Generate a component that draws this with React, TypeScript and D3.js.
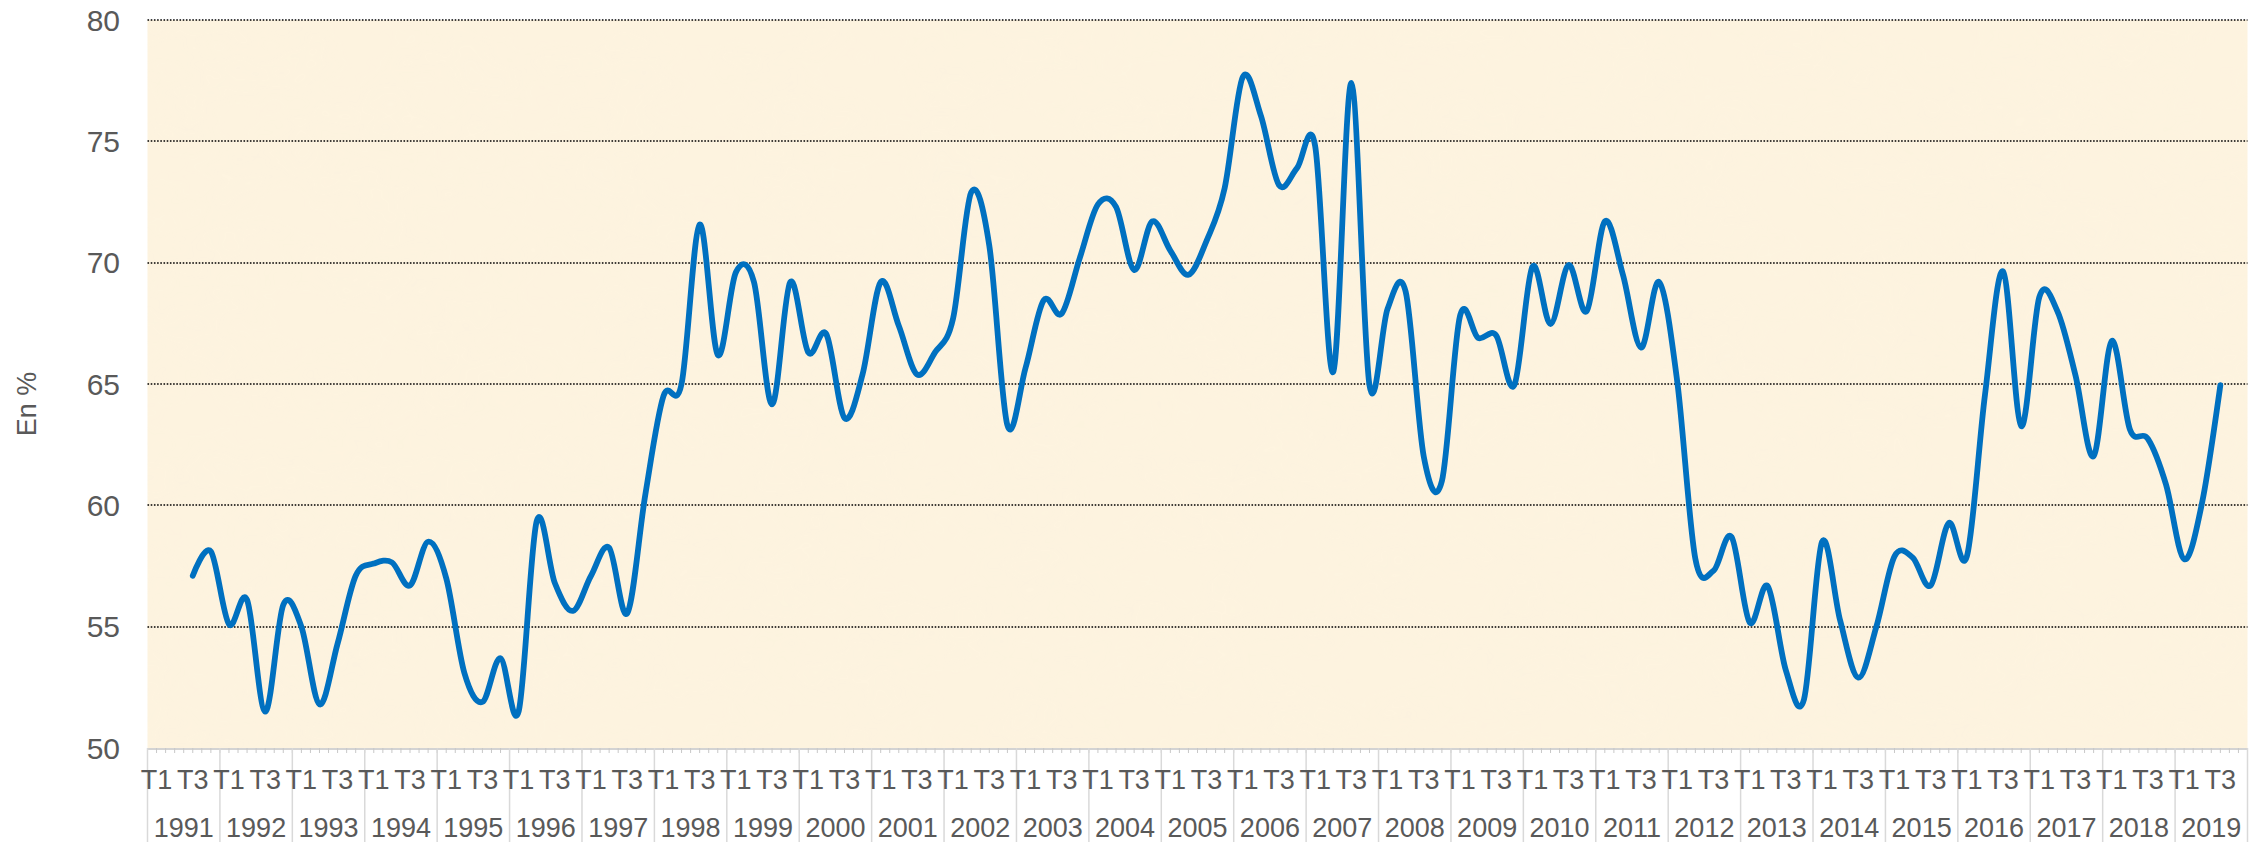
import React from "react";
import * as d3 from "d3";

const years = ["1991","1992","1993","1994","1995","1996","1997","1998","1999","2000","2001","2002","2003","2004","2005","2006","2007","2008","2009","2010","2011","2012","2013","2014","2015","2016","2017","2018","2019"];
const quarterNames = ["T1", "T2", "T3", "T4"];
const shownQuarterLabels = ["T1", "T3"];
const yTicks = [50, 55, 60, 65, 70, 75, 80];
const gridTicks = [55, 60, 65, 70, 75, 80];

// Values in %, from 1991 T1 to 2019 T4 (null = no data)
const rates: (number | null)[] = [
  // 1991
  null, null, 57.1, 58.1,
  // 1992
  55.1, 56.1, 51.5, 55.9,
  // 1993
  55.0, 51.8, 54.3, 57.1,
  // 1994
  57.6, 57.65, 56.7, 58.5,
  // 1995
  57.0, 53.1, 51.9, 53.7,
  // 1996
  51.5, 59.35, 56.8, 55.65,
  // 1997
  57.1, 58.25, 55.55, 60.45,
  // 1998
  64.5, 65.0, 71.57, 66.2,
  // 1999
  69.6, 69.2, 64.16, 69.2,
  // 2000
  66.3, 67.05, 63.6, 65.4,
  // 2001
  69.2, 67.4, 65.4, 66.3,
  // 2002
  67.7, 72.9, 70.7, 63.3,
  // 2003
  65.66, 68.45, 67.9, 70.2,
  // 2004
  72.4, 72.3, 69.7, 71.7,
  // 2005
  70.5, 69.5, 70.9, 73.07,
  // 2006
  77.65, 76.06, 73.2, 73.9,
  // 2007
  74.8, 65.5, 77.4, 64.95,
  // 2008
  68.1, 68.8, 62.0, 61.0,
  // 2009
  67.8, 66.9, 67.0, 64.95,
  // 2010
  69.83, 67.47, 69.9, 68.0,
  // 2011
  71.7, 69.5, 66.5, 69.2,
  // 2012
  65.1, 57.8, 57.3, 58.7,
  // 2013
  55.17, 56.67, 53.2, 52.0,
  // 2014
  58.5, 55.25, 52.9, 55.0,
  // 2015
  57.9, 57.85, 56.7, 59.27,
  // 2016
  57.9, 64.56, 69.64, 63.26,
  // 2017
  68.58, 68.0, 65.35, 62.03,
  // 2018
  66.77, 63.14, 62.74, 60.85,
  // 2019
  57.78, 60.14, 64.95, null,
];

const W = 2254;
const H = 842;
const plotLeft = 147.5;
const plotRight = 2247.5;
const plotTop = 20;
const plotBottom = 748;

type Pt = { key: string; year: string; q: string; v: number | null };

export default function App() {
  const points: Pt[] = [];
  years.forEach((y, yi) => {
    quarterNames.forEach((q, qi) => {
      points.push({ key: y + "-" + q, year: y, q, v: rates[yi * 4 + qi] });
    });
  });

  const x = d3
    .scaleBand<string>()
    .domain(points.map((p) => p.key))
    .range([plotLeft, plotRight])
    .padding(0);
  const bw = x.bandwidth();
  const cx = (k: string) => (x(k) as number) + bw / 2;

  const yearScale = d3
    .scaleBand<string>()
    .domain(years)
    .range([plotLeft, plotRight])
    .padding(0);

  const y = d3.scaleLinear().domain([50, 80]).range([plotBottom, plotTop]);

  const line = d3
    .line<Pt>()
    .defined((d) => d.v !== null)
    .x((d) => cx(d.key))
    .y((d) => y(d.v as number))
    .curve(d3.curveCatmullRom.alpha(0));

  const minorTicks = d3.range(0, points.length * 2 + 1).map(
    (i) => plotLeft + (i * bw) / 2
  );

  const font = "'Liberation Sans', Arial, sans-serif";
  const textColor = "#595959";

  return (
    <div style={{ position: "absolute", left: 0, top: 0, width: W, height: H, background: "#fff" }}>
      <svg width={W} height={H} style={{ display: "block" }}>
        <defs>
          <filter id="parchment" x="0" y="0" width="100%" height="100%">
            <feTurbulence type="fractalNoise" baseFrequency="0.012 0.02" numOctaves="3" seed="4" result="noise" />
            <feColorMatrix
              in="noise"
              type="matrix"
              values="0 0 0 0 0.97  0 0 0 0 0.91  0 0 0 0 0.76  0 0 0 0.5 -0.15"
            />
          </filter>
        </defs>
        {/* plot background */}
        <rect x={plotLeft} y={plotTop} width={plotRight - plotLeft} height={plotBottom - plotTop} fill="#fdf3df" />
        <rect
          x={plotLeft}
          y={plotTop}
          width={plotRight - plotLeft}
          height={plotBottom - plotTop}
          filter="url(#parchment)"
          opacity={0.3}
        />

        {/* gridlines */}
        {gridTicks.map((t) => (
          <line
            key={"g" + t}
            x1={plotLeft}
            x2={plotRight}
            y1={Math.round(y(t))}
            y2={Math.round(y(t))}
            stroke="#000"
            strokeWidth={1.6}
            strokeDasharray="1.6 1.6"
          />
        ))}

        {/* x axis line */}
        <line
          x1={plotLeft}
          x2={plotRight}
          y1={plotBottom + 1}
          y2={plotBottom + 1}
          stroke="#a6a6a6"
          strokeWidth={2}
          strokeDasharray="1 1"
        />
        {minorTicks.map((tx, i) => (
          <line key={"m" + i} x1={tx} x2={tx} y1={plotBottom} y2={plotBottom + 5} stroke="#c8c8c8" strokeWidth={1} />
        ))}
        {/* year separators */}
        {years.map((yr) => (
          <line
            key={"s" + yr}
            x1={yearScale(yr) as number}
            x2={yearScale(yr) as number}
            y1={plotBottom}
            y2={H}
            stroke="#d9d9d9"
            strokeWidth={1.5}
          />
        ))}
        <line x1={plotRight} x2={plotRight} y1={plotBottom} y2={H} stroke="#d9d9d9" strokeWidth={1.5} />

        {/* y tick labels */}
        {yTicks.map((t) => (
          <text
            key={"y" + t}
            x={120}
            y={y(t)}
            dy="0.35em"
            textAnchor="end"
            fontFamily={font}
            fontSize={30}
            fill={textColor}
          >
            {t}
          </text>
        ))}

        {/* quarter labels */}
        {points
          .filter((p) => shownQuarterLabels.includes(p.q))
          .map((p) => (
            <text
              key={"q" + p.key}
              x={cx(p.key)}
              y={789}
              textAnchor="middle"
              fontFamily={font}
              fontSize={27}
              fill={textColor}
            >
              {p.q}
            </text>
          ))}

        {/* year labels */}
        {years.map((yr) => (
          <text
            key={"yl" + yr}
            x={(yearScale(yr) as number) + yearScale.bandwidth() / 2}
            y={837}
            textAnchor="middle"
            fontFamily={font}
            fontSize={27}
            fill={textColor}
          >
            {yr}
          </text>
        ))}

        {/* axis title */}
        <text
          transform={`translate(36, ${(plotTop + plotBottom) / 2 + 20}) rotate(-90)`}
          textAnchor="middle"
          fontFamily={font}
          fontSize={27}
          fill={textColor}
        >
          En %
        </text>

        {/* data line */}
        <path
          d={line(points) || ""}
          fill="none"
          stroke="#0070c0"
          strokeWidth={5.8}
          strokeLinejoin="round"
          strokeLinecap="round"
        />
      </svg>
    </div>
  );
}
